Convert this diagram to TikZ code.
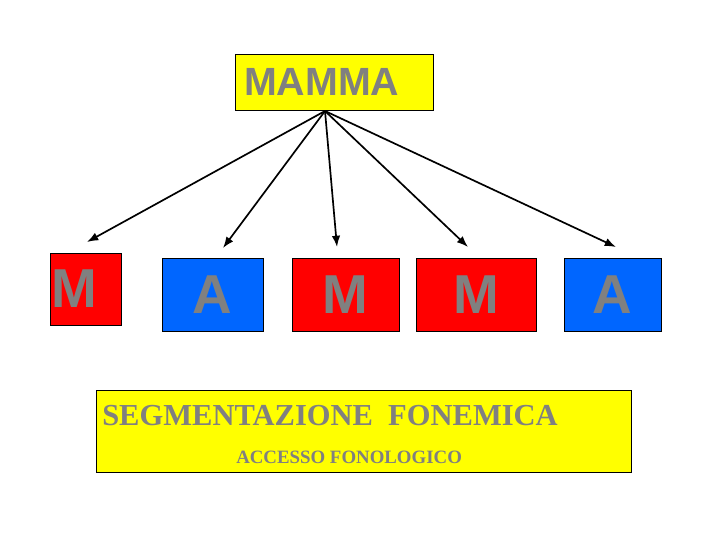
\documentclass[tikz,border=0pt]{standalone}
\usepackage{fontspec}
\setmainfont{Liberation Serif}
\setsansfont{Liberation Sans}
\usetikzlibrary{arrows.meta}
\definecolor{txtgray}{HTML}{808080}
\definecolor{boxred}{HTML}{FF0000}
\definecolor{boxblue}{HTML}{0066FF}
\definecolor{boxyellow}{HTML}{FFFF00}
\tikzset{
  letterbox/.style={draw=black, line width=0.7pt, inner sep=0pt, text=txtgray,
    font=\sffamily\bfseries\fontsize{39}{40}\selectfont},
  arrow/.style={line width=1.2pt, -{Latex[length=8pt, width=6pt]}}
}
\begin{document}
\begin{tikzpicture}[x=0.025cm, y=-0.025cm]
            \useasboundingbox (0,0) rectangle (720,540);
            \node[draw=black, line width=0.7pt, fill=boxyellow, inner ysep=0pt, inner xsep=9*0.025cm,
                  text width=180*0.025cm, align=left, minimum height=56*0.025cm, text=txtgray,
                  font=\sffamily\bfseries\fontsize{28}{30}\selectfont] (mamma) at (334,82) {MAMMA};
            \node[letterbox, fill=boxred, minimum height=72*0.025cm, text width=69*0.025cm,
                  inner xsep=1*0.025cm, align=left] (m1) at (85.5,289) {M};
            \node[letterbox, fill=boxblue, minimum width=101*0.025cm, minimum height=73*0.025cm] (a1) at (212.5,294.5) {A};
            \node[letterbox, fill=boxred, minimum width=107*0.025cm, minimum height=73*0.025cm] (m2) at (345.5,294.5) {M};
            \node[letterbox, fill=boxred, minimum width=120*0.025cm, minimum height=73*0.025cm] (m3) at (476,294.5) {M};
            \node[letterbox, fill=boxblue, minimum width=97*0.025cm, minimum height=73*0.025cm] (a2) at (612.5,294.5) {A};
            \node[draw=black, line width=0.7pt, fill=boxyellow, minimum width=535*0.025cm,
                  minimum height=82*0.025cm] (segbox) at (363.5,431) {};
            \node[anchor=base west, inner sep=0pt, text=txtgray, font=\bfseries\fontsize{21.7}{24}\selectfont]
                  (seg) at (102,425) {SEGMENTAZIONE\ \ FONEMICA};
            \node[anchor=base west, inner sep=0pt, text=txtgray, font=\bfseries\fontsize{13.4}{15}\selectfont]
                  (acc) at (236,463) {ACCESSO FONOLOGICO};
            % arrows
            \coordinate (top) at (325,111);
            \coordinate (e1) at (87,242);
            \coordinate (e2) at (223,248);
            \coordinate (e3) at (337,247);
            \coordinate (e4) at (468,247);
            \coordinate (e5) at (616,247);
            \draw[arrow] (top) -- (e1);
            \draw[arrow] (top) -- (e2);
            \draw[arrow] (top) -- (e3);
            \draw[arrow] (top) -- (e4);
            \draw[arrow] (top) -- (e5);
\end{tikzpicture}
\end{document}
